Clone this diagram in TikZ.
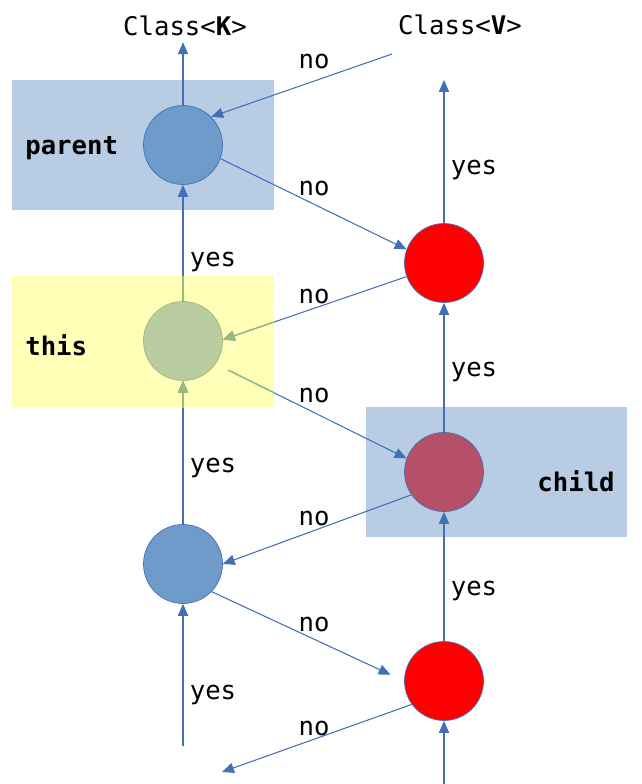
\documentclass[tikz,border=0pt]{standalone}
\usepackage{fontspec}
\setmonofont{DejaVu Sans Mono}
\usetikzlibrary{arrows.meta, positioning}

\definecolor{boxblue}{RGB}{184,204,228}
\definecolor{boxyellow}{RGB}{255,255,183}
\definecolor{nodeblue}{RGB}{111,155,203}
\definecolor{nodegreen}{RGB}{185,205,160}
\definecolor{nodemauve}{RGB}{182,80,104}
\definecolor{edgeblue}{RGB}{66,112,180}
\definecolor{edgegreen}{RGB}{155,185,125}

\begin{document}
\begin{tikzpicture}[x=0.02cm, y=-0.02cm,
        font=\ttfamily\fontsize{14.6}{17}\selectfont,
        vnode/.style={circle, minimum size=1.58cm, inner sep=0pt, draw=edgeblue, line width=0.4pt},
        link/.style={draw=edgeblue, line width=0.6pt, -{Triangle[length=6.8pt, width=5.8pt]}},
        tag/.style={inner sep=0pt}]
        \useasboundingbox (0,0) rectangle (642,784);

        % Background boxes
        \fill[boxblue] (12,80) rectangle (274,210);
        \fill[boxyellow] (12,276) rectangle (274,407);
        \fill[boxblue] (366,407) rectangle (627,537);

        % Class labels on top
        \node (kclass) at (185,26) {Class<\textbf{K}>};
        \node (vclass) at (460,25) {Class<\textbf{V}>};
        \coordinate (vtop) at (444,80);
        \coordinate (vfree) at (392,54);

        % Nodes of the K column
        \node[vnode, fill=nodeblue] (parent) at (183,145) {};
        \node[vnode, fill=nodegreen, draw=edgegreen] (this) at (183,341) {};
        \node[vnode, fill=nodeblue] (left) at (183,564) {};
        \coordinate (kin) at (183,746);
        \coordinate (kfree) at (222,772);

        % Nodes of the V column
        \node[vnode, fill=red] (red1) at (444,263) {};
        \node[vnode, fill=nodemauve] (child) at (444,472) {};
        \node[vnode, fill=red] (red2) at (444,681) {};
        \coordinate (vin) at (444,784);

        % Box labels
        \node[tag, anchor=west] (parentlbl) at (25,148) {\bfseries parent};
        \node[tag, anchor=west] (thislbl) at (25,345) {\bfseries this};
        \node[tag, anchor=east] (childlbl) at (615,481) {\bfseries child};

        % yes links (vertical)
        \draw[link] (parent.north) -- (parent.north |- kclass.south);
        \draw[link] (this) -- (parent);
        \draw[link] (left) -- (this);
        \draw[link] (kin) -- (left);
        \draw[link] (red1) -- (vtop);
        \draw[link] (child) -- (red1);
        \draw[link] (red2) -- (child);
        \draw[link] (vin) -- (red2);

        % no links (across)
        \draw[link] (vfree) -- (parent.45);
        \draw[link] (parent.-20) -- (red1.160);
        \draw[link] (red1.200) -- (this.2);
        \draw[link, shorten <=8pt] (this.-35) -- (child.160);
        \draw[link] (child.215) -- (left.0);
        \draw[link, shorten >=8.5pt] (left.-44) -- (red2.west);
        \draw[link] (red2.216) -- (kfree);

        % links turn green inside the yellow box
        \begin{scope}
            \clip (12,276) rectangle (274,407);
            \draw[link, draw=edgegreen, fill=edgegreen] (this) -- (parent);
            \draw[link, draw=edgegreen, fill=edgegreen] (left) -- (this);
            \draw[link, draw=edgegreen, fill=edgegreen] (red1.200) -- (this.2);
            \draw[link, draw=edgegreen, fill=edgegreen, shorten <=8pt] (this.-35) -- (child.160);
        \end{scope}

        % yes labels
        \node[tag] (yes1) at (213,262) {yes};
        \node[tag] (yes2) at (213,468) {yes};
        \node[tag] (yes3) at (213,695) {yes};
        \node[tag] (yes4) at (474,170) {yes};
        \node[tag] (yes5) at (474,372) {yes};
        \node[tag] (yes6) at (474,591) {yes};

        % no labels
        \node[tag] (no1) at (314,61) {no};
        \node[tag] (no2) at (314,188) {no};
        \node[tag] (no3) at (314,296) {no};
        \node[tag] (no4) at (314,395) {no};
        \node[tag] (no5) at (314,518) {no};
        \node[tag] (no6) at (314,624) {no};
        \node[tag] (no7) at (314,728) {no};
    \end{tikzpicture}
\end{document}
